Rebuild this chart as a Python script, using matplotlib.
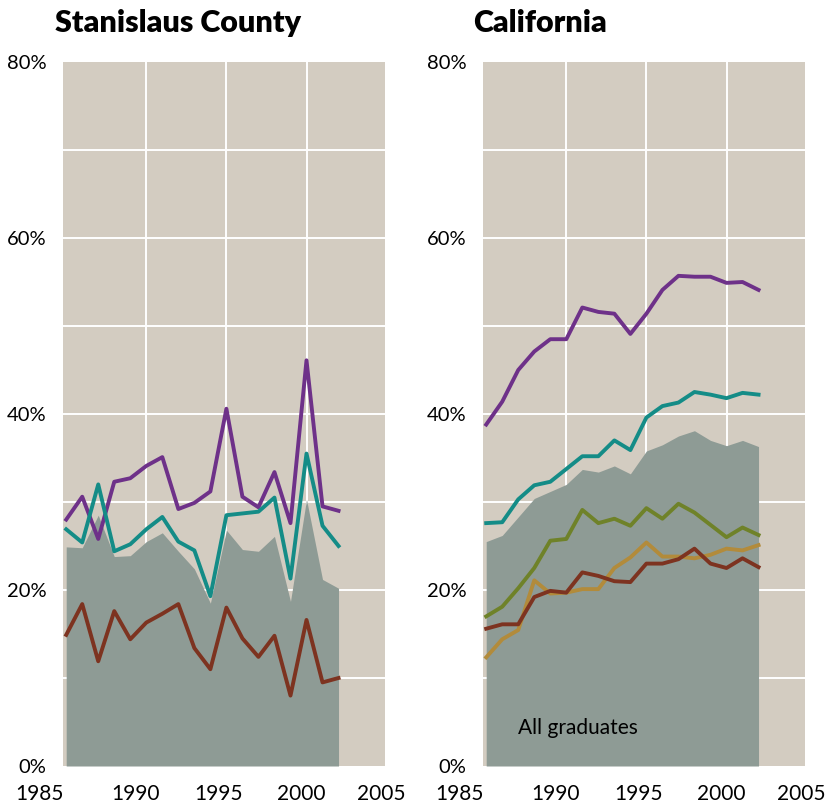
import numpy as np
import matplotlib
matplotlib.use("Agg")
import matplotlib.pyplot as plt
import matplotlib.transforms as mtransforms

# Years shown on both panels
years = list(range(1985, 2003))

# Stanislaus County series (percent)
stan_all = [24.9, 24.8, 28.5, 23.8, 23.9, 25.5, 26.5, 24.4, 22.4, 18.5,
            26.8, 24.6, 24.4, 26.1, 18.7, 30.3, 21.2, 20.2]
stan_purple = [28.0, 30.6, 25.8, 32.3, 32.7, 34.1, 35.1, 29.2, 29.9, 31.2,
               40.6, 30.6, 29.4, 33.4, 27.6, 46.1, 29.5, 29.0]
stan_teal = [26.9, 25.4, 32.0, 24.4, 25.2, 26.9, 28.3, 25.5, 24.5, 19.3,
             28.5, 28.7, 28.9, 30.5, 21.3, 35.5, 27.3, 25.0]
stan_red = [14.9, 18.4, 11.9, 17.6, 14.4, 16.3, 17.3, 18.4, 13.4, 11.0,
            18.0, 14.5, 12.4, 14.8, 8.0, 16.6, 9.5, 10.0]

# California series (percent)
ca_all = [25.5, 26.2, 28.3, 30.4, 31.2, 32.0, 33.7, 33.4, 34.1, 33.2,
          35.8, 36.5, 37.5, 38.1, 37.0, 36.4, 37.0, 36.3]
ca_purple = [38.8, 41.4, 45.0, 47.1, 48.5, 48.5, 52.1, 51.6, 51.4, 49.1,
             51.4, 54.1, 55.7, 55.6, 55.6, 54.9, 55.0, 54.1]
ca_teal = [27.6, 27.7, 30.3, 31.9, 32.3, 33.75, 35.2, 35.2, 37.0, 35.9,
           39.6, 40.9, 41.3, 42.5, 42.2, 41.8, 42.4, 42.2]
ca_olive = [17.0, 18.1, 20.2, 22.5, 25.6, 25.8, 29.1, 27.6, 28.1, 27.3,
            29.3, 28.1, 29.8, 28.8, 27.4, 26.0, 27.1, 26.25]
ca_gold = [12.35, 14.4, 15.45, 21.1, 19.6, 19.7, 20.1, 20.1, 22.5, 23.7,
           25.4, 23.8, 23.8, 23.6, 24.0, 24.7, 24.5, 25.1]
ca_red = [15.6, 16.1, 16.1, 19.2, 19.9, 19.7, 22.0, 21.6, 21.0, 20.9,
          23.0, 23.0, 23.5, 24.7, 23.0, 22.5, 23.6, 22.6]

x_ticks = [1985, 1990, 1995, 2000, 2005]
y_ticks = [0, 20, 40, 60, 80]

BG = "#d3ccc1"
AREA = "#8e9b95"
PURPLE = "#6e3189"
TEAL = "#148c87"
RED = "#7d3320"
OLIVE = "#6f8229"
GOLD = "#b28b3b"

plt.rcParams["font.family"] = ["Lato", "DejaVu Sans"]

fig = plt.figure(figsize=(8.39, 8.10), dpi=100)
ax1 = fig.add_axes([63 / 839, 44 / 810, 322 / 839, 704 / 810])
ax2 = fig.add_axes([483 / 839, 44 / 810, 322 / 839, 704 / 810])


def style_axis(ax, title, title_x):
    ax.set_facecolor(BG)
    ax.set_xlim(1984.8, 2004.9)
    ax.set_ylim(0, 80)
    for s in ax.spines.values():
        s.set_visible(False)
    # White grid: every 5 years, every 10 percent
    for yr in [1990, 1995, 2000]:
        ax.axvline(yr, color="white", lw=1.4, zorder=1)
    for v in range(10, 80, 10):
        ax.axhline(v, color="white", lw=1.4, zorder=1)
    ax.set_xticks([])
    ax.set_yticks(y_ticks)
    ax.set_yticklabels([f"{v}%" for v in y_ticks], fontsize=14.5)
    ax.tick_params(axis="y", length=0, pad=12)
    # Year labels under the axis
    trans = mtransforms.blended_transform_factory(ax.transData, ax.transAxes)
    shifts = [-27, -11, -8, -5, -5]
    for yr, dx in zip(x_ticks, shifts):
        off = mtransforms.ScaledTranslation(dx / 100, 0, fig.dpi_scale_trans)
        ax.text(yr, -0.026, str(yr), transform=trans + off, ha="center",
                va="top", fontsize=15)
    ax.text(title_x, 1.043, title, transform=ax.transAxes, ha="left",
            va="baseline", fontsize=22, fontweight="heavy")


style_axis(ax1, "Stanislaus County", -0.025)
style_axis(ax2, "California", -0.031)

lw = 2.8

# Stanislaus County
ax1.fill_between(years, 0, stan_all, color=AREA, lw=0, zorder=2)
ax1.plot(years, stan_purple, color=PURPLE, lw=lw, zorder=3)
ax1.plot(years, stan_teal, color=TEAL, lw=lw, zorder=3)
ax1.plot(years, stan_red, color=RED, lw=lw, zorder=3)

# California
ax2.fill_between(years, 0, ca_all, color=AREA, lw=0, zorder=2)
ax2.plot(years, ca_purple, color=PURPLE, lw=lw, zorder=3)
ax2.plot(years, ca_teal, color=TEAL, lw=lw, zorder=3)
ax2.plot(years, ca_olive, color=OLIVE, lw=lw, zorder=3)
ax2.plot(years, ca_gold, color=GOLD, lw=lw, zorder=3)
ax2.plot(years, ca_red, color=RED, lw=lw, zorder=3)
ax2.text(1987, 4.3, "All graduates", fontsize=15, ha="left", va="center",
         zorder=4)

fig.savefig("out.png", dpi=100, facecolor="white")
